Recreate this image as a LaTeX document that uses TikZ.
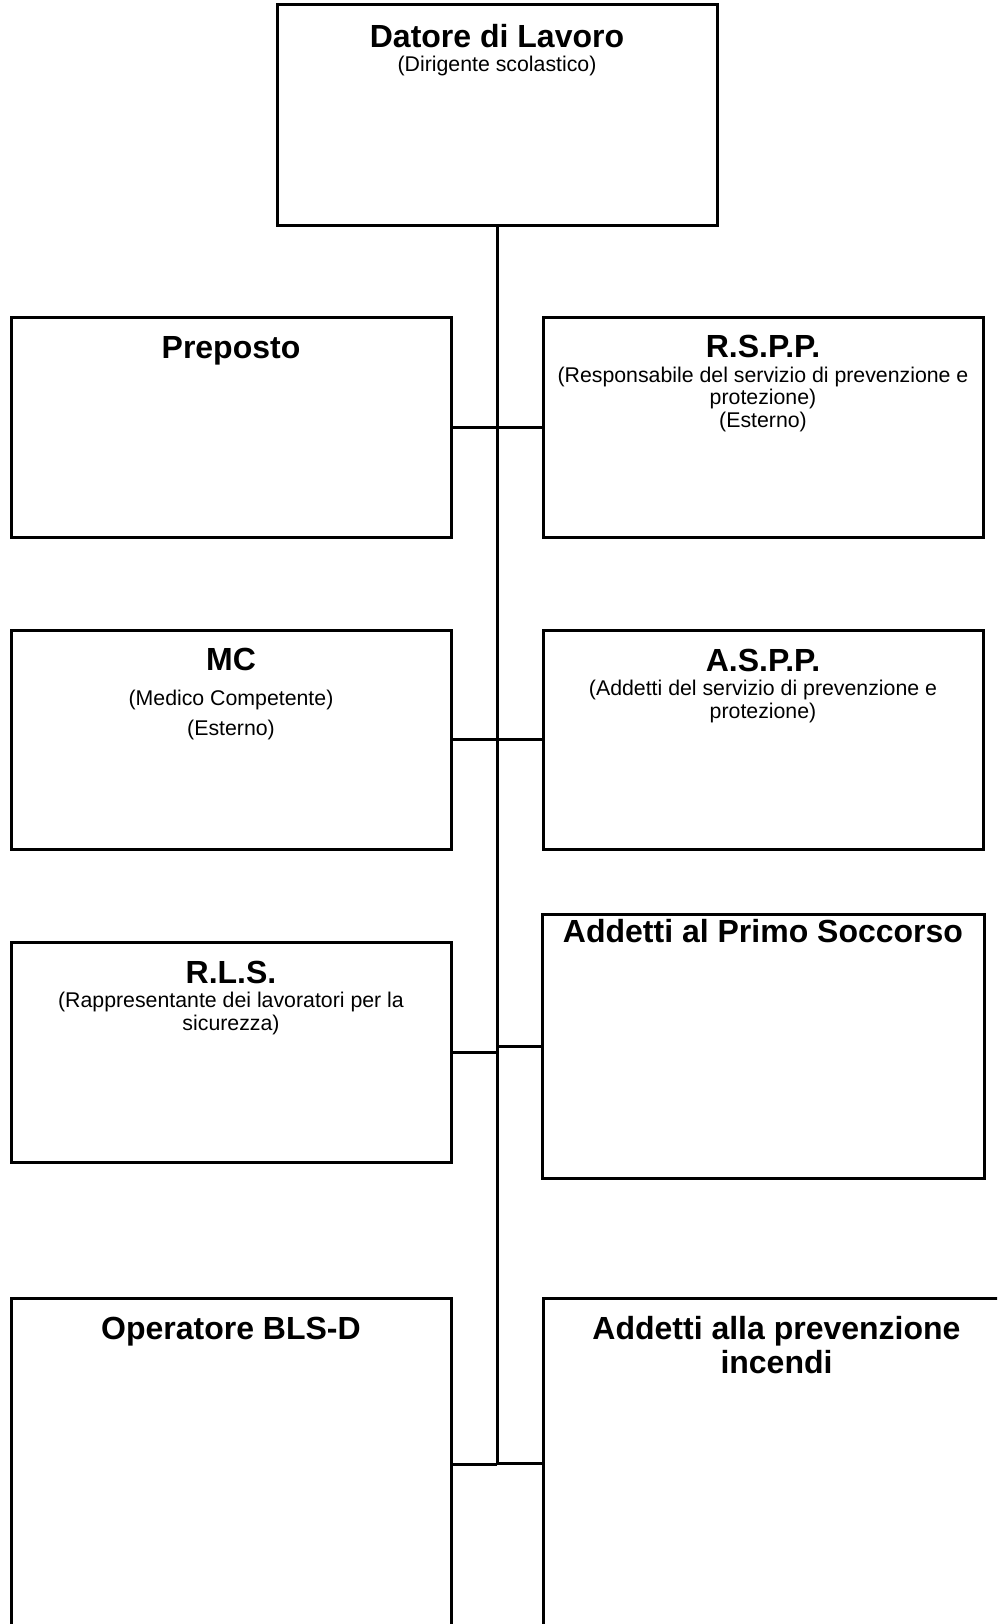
\documentclass[tikz,border=0pt]{standalone}
\usepackage{fontspec}
\setmainfont{Liberation Sans}
\newcommand\ttl{\fontsize{32}{36}\selectfont\bfseries}
\newcommand\sbt{\fontsize{21.3}{22.5}\selectfont}
\begin{document}
\begin{tikzpicture}[x=1pt,y=-1pt,
  box/.style={draw, line width=3pt, inner sep=0pt, outer sep=0pt, anchor=north west, fill=white},
  conn/.style={line width=3pt},
  lbl/.style={anchor=base, inner sep=0pt}]
\useasboundingbox (0,0) rectangle (997,1624);
\clip (0,0) rectangle (997,1624);
% boxes
\node[box, minimum width=440pt, minimum height=220pt] (dl) at (277,5) {};
\node[box, minimum width=440pt, minimum height=220pt] (pre) at (11,317) {};
\node[box, minimum width=440pt, minimum height=220pt] (rspp) at (543,317) {};
\node[box, minimum width=440pt, minimum height=219pt] (mc) at (11,630) {};
\node[box, minimum width=440pt, minimum height=219pt] (aspp) at (543,630) {};
\node[box, minimum width=440pt, minimum height=220pt] (rls) at (11,942) {};
\node[box, minimum width=442pt, minimum height=264pt] (ps) at (542,914) {};
\node[box, minimum width=440pt, minimum height=440pt] (bls) at (11,1298) {};
\node[box, minimum width=467pt, minimum height=440pt] (inc) at (543,1298) {};
% connectors
\coordinate (vend) at (497,1464);
\draw[conn] (dl.south) -- (vend);
\draw[conn] (pre.east) -- (rspp.west);
\draw[conn] (mc.east) -- (aspp.west);
\draw[conn] (rls.east) -- (rls.east -| dl.south);
\draw[conn] (ps.west) -- (ps.west -| dl.south);
\draw[conn] (vend) -- (vend -| bls.east);
\draw[conn] ([yshift=1pt]vend) -- ([yshift=1pt]vend -| inc.west);
% texts
\node[lbl] (t-dl) at (497,47.5) {\ttl Datore di Lavoro};
\node[lbl] (s-dl) at (497,72) {\sbt (Dirigente scolastico)};
\node[lbl] (t-pre) at (231,358) {\ttl Preposto};
\node[lbl] (t-rspp) at (763,357) {\ttl R.S.P.P.};
\node[lbl] (s-rspp1) at (763,382) {\sbt (Responsabile del servizio di prevenzione e};
\node[lbl] (s-rspp2) at (763,404.5) {\sbt protezione)};
\node[lbl] (s-rspp3) at (763,427) {\sbt (Esterno)};
\node[lbl] (t-mc) at (231,670) {\ttl MC};
\node[lbl] (s-mc) at (231,705) {\sbt (Medico Competente)};
\node[lbl] (s-mc2) at (231,735) {\sbt (Esterno)};
\node[lbl] (t-aspp) at (763,671) {\ttl A.S.P.P.};
\node[lbl] (s-aspp1) at (763,695.5) {\sbt (Addetti del servizio di prevenzione e};
\node[lbl] (s-aspp2) at (763,718) {\sbt protezione)};
\node[lbl] (t-rls) at (231,983) {\ttl R.L.S.};
\node[lbl] (s-rls1) at (231,1007) {\sbt (Rappresentante dei lavoratori per la};
\node[lbl] (s-rls2) at (231,1030) {\sbt sicurezza)};
\node[lbl] (t-ps) at (763,942) {\ttl Addetti al Primo Soccorso};
\node[lbl] (t-bls) at (231,1339.5) {\ttl Operatore BLS-D};
\node[lbl] (t-inc1) at (776.5,1339.5) {\ttl Addetti alla prevenzione};
\node[lbl] (t-inc2) at (776.5,1373) {\ttl incendi};
\end{tikzpicture}
\end{document}
